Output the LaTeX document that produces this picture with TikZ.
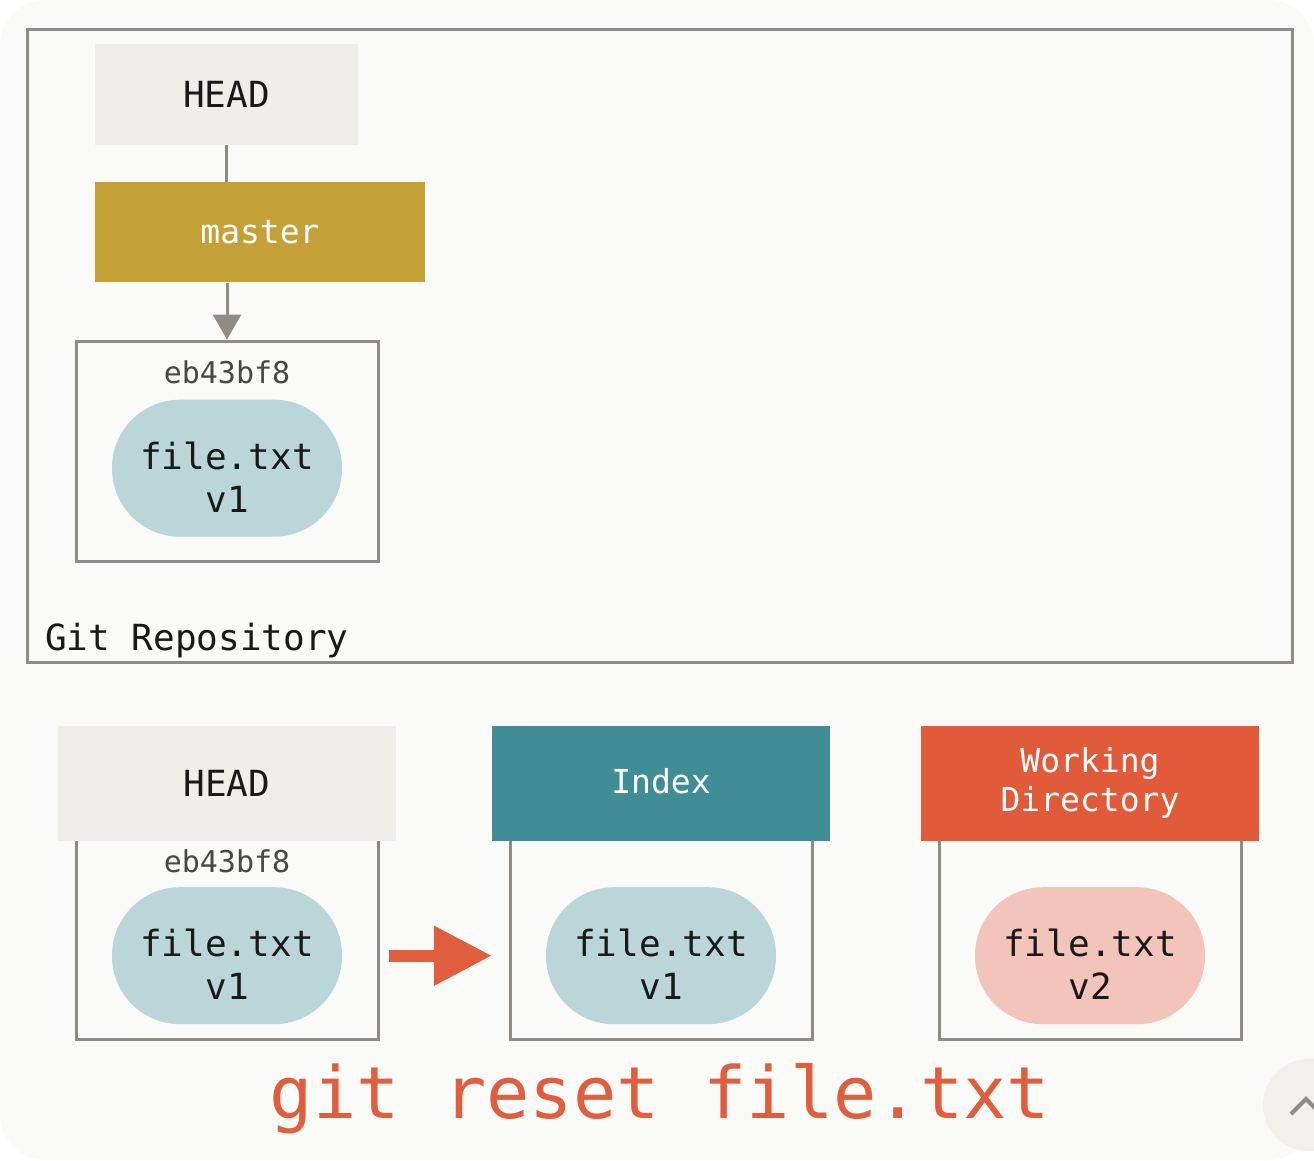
\documentclass[tikz,border=0pt]{standalone}
\usepackage{fontspec}
\setmainfont{DejaVu Sans Mono}
\usepackage{xcolor}
\usepackage{tikz}
\usetikzlibrary{arrows.meta,positioning}

\definecolor{paper}{HTML}{FAFAF8}
\definecolor{headgray}{HTML}{EFEEE8}
\definecolor{branchgold}{HTML}{C4A136}
\definecolor{indexteal}{HTML}{418D96}
\definecolor{wdred}{HTML}{E15B3A}
\definecolor{blobteal}{HTML}{BBD6D9}
\definecolor{blobpink}{HTML}{F3C4B9}
\definecolor{framegray}{HTML}{8F8B85}
\definecolor{cmdred}{HTML}{E05E3D}

\begin{document}
\begin{tikzpicture}[x=1pt, y=-1pt, inner sep=0pt]
    % Styles
    \tikzstyle{head} = [rectangle, fill=headgray, text=black!90, font=\fontsize{36}{42}\selectfont]
    \tikzstyle{branch} = [rectangle, text=white, align=center, minimum width=338, minimum height=115, font=\fontsize{33}{39}\selectfont]
    \tikzstyle{commit} = [rectangle, draw=framegray, line width=3pt, minimum width=302]
    \tikzstyle{hash} = [text=black!72, font=\fontsize{30}{36}\selectfont]
    \tikzstyle{blob} = [rectangle, rounded corners=68pt, fill=blobteal, minimum width=230, minimum height=137]
    \tikzstyle{blobtext} = [align=center, text=black!90, font=\fontsize{36}{43}\selectfont]
    \tikzstyle{link} = [framegray, line width=3pt]
    \tikzstyle{arrow} = [link, -{Triangle[length=25pt, width=28pt]}]
    \tikzstyle{bigarrow} = [cmdred, line width=12pt, -{Triangle[length=58pt, width=57pt]}]

    % Page
    \fill[white] (0,0) rectangle (1314,1160);
    \fill[paper, rounded corners=45pt] (0,0) rectangle (1314,1160);
    \useasboundingbox (0,0) rectangle (1314,1160);
    \begin{scope}
        \clip (0,0) rectangle (1314,1160);
        \fill[headgray!85] (1309,1105) circle (46pt);
        \draw[framegray, line width=4pt] (1291,1114) -- (1306,1099) -- (1321,1114);
    \end{scope}

    % Repository
    \node [rectangle, draw=framegray, line width=3pt, minimum width=1265, minimum height=633] (repo) at (659.5,345.5) {};
    \node [anchor=base west, text=black!90, font=\fontsize{36}{42}\selectfont] (repolabel) at (45,650) {Git Repository};

    \node [head, minimum width=263, minimum height=101] (head1) at (226.5,94.5) {HEAD};
    \node [branch, fill=branchgold, minimum width=330, minimum height=100, below=37pt of head1.south west, anchor=north west] (master) {master};
    \node [commit, minimum height=220] (commit1) at (227,451) {};
    \node [hash, below=21pt of commit1.north] (hash1) {eb43bf8};
    \node [blob, below=60pt of commit1.north] (blob1) {};
    \node [blobtext] (file1) at ([yshift=-9pt]blob1.center) {file.txt\\v1};

    \draw[link] (head1.south) -- (head1.south |- master.north);
    \draw[arrow] (commit1.north |- master.south) -- (commit1.north);

    % Trees
    \node [commit, minimum height=200] (box2) at (227,939.5) {};
    \node [head, minimum width=338, minimum height=115, above=-3pt of box2] (head2) {HEAD};
    \node [hash, below=11pt of box2.north] (hash2) {eb43bf8};
    \node [blob, below=49pt of box2.north] (blob2) {};
    \node [blobtext] (file2) at ([yshift=-9pt]blob2.center) {file.txt\\v1};

    \node [commit, minimum height=200, right=129pt of box2] (box3) {};
    \node [branch, fill=indexteal, above=-3pt of box3] (index) {\raisebox{4pt}{Index}};
    \node [blob, below=49pt of box3.north] (blob3) {};
    \node [blobtext] (file3) at ([yshift=-9pt]blob3.center) {file.txt\\v1};

    \node [commit, minimum height=200, right=124pt of box3] (box4) {};
    \node [branch, fill=wdred, above=-3pt of box4] (wd) {Working\\Directory};
    \node [blob, fill=blobpink, below=49pt of box4.north] (blob4) {};
    \node [blobtext] (file4) at ([yshift=-9pt]blob4.center) {file.txt\\v2};

    \draw[bigarrow] ([xshift=9pt]box2.east |- blob2) -- (index.west |- blob2);

    % Command
    \node [text=cmdred, font=\fontsize{72}{80}\selectfont] (cmd) at (660,1099) {git reset file.txt};
\end{tikzpicture}
\end{document}
